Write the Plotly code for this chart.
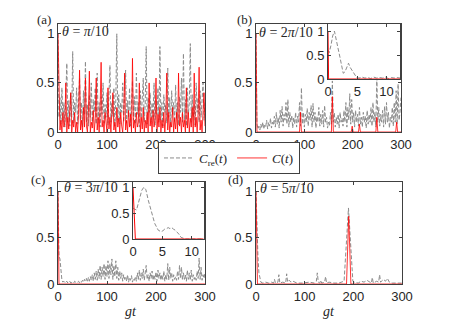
import plotly.graph_objects as go

# the page body adds an 8px margin, so the figure is drawn 8px in from the corner
OFF = 8
W, H = 449 - OFF, 323 - OFF

# time grid shared by the dense main-panel traces (step 2 in gt)
t_main = list(range(0, 301, 2))

# (a) theta = pi/10
cre_a = [1.0, 0.15, 0.35, 0.08, 0.45, 0.12, 0.3, 0.05, 0.38, 0.7,
         0.1, 0.32, 0.06, 0.4, 0.15, 0.82, 0.09, 0.3, 0.2, 0.45,
         0.08, 0.35, 0.55, 0.12, 0.3, 0.05, 0.42, 0.18, 0.72, 0.1,
         0.28, 0.06, 0.38, 0.15, 0.5, 0.1, 0.33, 0.2, 0.45, 0.08,
         0.6, 0.12, 0.3, 0.05, 0.36, 0.18, 0.5, 0.09, 0.28, 0.15,
         0.4, 0.07, 0.35, 0.68, 0.1, 0.3, 0.16, 0.45, 0.06, 0.33,
         1.0, 0.12, 0.38, 0.08, 0.3, 0.2, 0.5, 0.1, 0.35, 0.63,
         0.09, 0.32, 0.15, 0.45, 0.06, 0.3, 0.52, 0.12, 0.36, 0.08,
         0.6, 0.18, 0.3, 0.05, 0.42, 0.14, 0.33, 0.55, 0.1, 0.28,
         0.87, 0.08, 0.35, 0.2, 0.4, 0.1, 0.3, 0.15, 0.5, 0.07,
         0.32, 0.18, 0.45, 0.1, 0.87, 0.12, 0.3, 0.06, 0.38, 0.2,
         0.28, 0.09, 0.65, 0.15, 0.35, 0.05, 0.42, 0.18, 0.3, 0.1,
         0.48, 0.14, 0.3, 0.07, 0.36, 0.2, 0.55, 0.1, 0.8, 0.12,
         0.33, 0.06, 0.45, 0.18, 0.3, 0.9, 0.1, 0.38, 0.15, 0.28,
         0.07, 0.5, 0.2, 0.35, 0.1, 0.42, 0.15, 0.3, 0.5, 0.12,
         0.3]
c_a = [1.0, 0.5, 0.02, 0.12, 0.0, 0.2, 0.05, 0.1, 0.5, 0.0,
       0.15, 0.03, 0.22, 0.4, 0.0, 0.12, 0.05, 0.2, 0.0, 0.1,
       0.0, 0.18, 0.63, 0.02, 0.12, 0.0, 0.25, 0.05, 0.55, 0.06,
       0.0, 0.2, 0.62, 0.0, 0.1, 0.04, 0.22, 0.0, 0.14, 0.55,
       0.02, 0.15, 0.0, 0.25, 0.71, 0.05, 0.12, 0.0, 0.2, 0.06,
       0.0, 0.45, 0.03, 0.15, 0.0, 0.2, 0.4, 0.02, 0.1, 0.0,
       0.25, 0.05, 0.14, 0.0, 0.2, 0.06, 0.0, 0.15, 0.6, 0.02,
       0.12, 0.0, 0.22, 0.05, 0.18, 0.0, 0.75, 0.04, 0.12, 0.0,
       0.2, 0.05, 0.1, 0.5, 0.0, 0.15, 0.03, 0.25, 0.0, 0.12,
       0.04, 0.2, 0.0, 0.5, 0.06, 0.15, 0.0, 0.22, 0.05, 0.12,
       0.55, 0.0, 0.18, 0.05, 0.25, 0.0, 0.12, 0.04, 0.2, 0.0,
       0.15, 0.6, 0.02, 0.2, 0.0, 0.1, 0.05, 0.25, 0.0, 0.14,
       0.03, 0.2, 0.0, 0.6, 0.06, 0.15, 0.0, 0.2, 0.05, 0.12,
       0.0, 0.45, 0.04, 0.2, 0.0, 0.14, 0.05, 0.25, 0.0, 0.6,
       0.05, 0.15, 0.0, 0.2, 0.66, 0.02, 0.12, 0.0, 0.2, 0.4,
       0.06]

# (b) theta = 2pi/10
cre_b = [1.0, 0.08, 0.03, 0.06, 0.02, 0.08, 0.04, 0.1, 0.03, 0.07,
         0.05, 0.12, 0.03, 0.1, 0.06, 0.14, 0.04, 0.1, 0.07, 0.16,
         0.05, 0.2, 0.08, 0.15, 0.04, 0.22, 0.1, 0.26, 0.06, 0.18,
         0.12, 0.3, 0.08, 0.33, 0.05, 0.2, 0.1, 0.17, 0.04, 0.15,
         0.08, 0.2, 0.05, 0.16, 0.1, 0.3, 0.06, 0.45, 0.08, 0.2,
         0.05, 0.18, 0.1, 0.24, 0.06, 0.2, 0.12, 0.27, 0.05, 0.29,
         0.1, 0.2, 0.04, 0.16, 0.1, 0.25, 0.06, 0.18, 0.08, 0.22,
         0.05, 0.27, 0.1, 0.15, 0.04, 0.1, 0.06, 0.2, 0.08, 0.52,
         0.1, 0.2, 0.05, 0.15, 0.08, 0.18, 0.04, 0.2, 0.1, 0.14,
         0.06, 0.22, 0.1, 0.3, 0.05, 0.25, 0.12, 0.39, 0.08, 0.33,
         0.1, 0.2, 0.05, 0.22, 0.1, 0.18, 0.06, 0.25, 0.08, 0.15,
         0.05, 0.2, 0.1, 0.16, 0.04, 0.22, 0.08, 0.18, 0.1, 0.25,
         0.06, 0.3, 0.1, 0.2, 0.05, 0.58, 0.1, 0.25, 0.06, 0.18,
         0.1, 0.22, 0.05, 0.26, 0.08, 0.3, 0.1, 0.2, 0.04, 0.15,
         0.1, 0.25, 0.06, 0.3, 0.1, 0.42, 0.08, 0.49, 0.12, 0.2,
         0.35]
c_b_t = [0, 2, 4, 90, 92, 94, 156, 158, 160, 197, 199, 201, 212, 214, 216,
         248, 250, 252, 289, 291, 293, 300]
c_b = [1.0, 0, 0, 0, 0.2, 0, 0, 0.36, 0, 0, 0.06, 0, 0, 0.08, 0,
       0, 0.15, 0, 0, 0.1, 0, 0]

# inset of (b): short times
ins_b_t = [0, 0.2, 0.5, 0.8, 1.1, 1.4, 1.7, 2.0, 2.3, 2.6, 2.9, 3.2, 3.5, 3.8,
           4.1, 4.5, 4.9, 5.3, 5.8, 6.3, 6.8, 7.3, 7.8, 8.3, 8.8, 9.3, 9.8,
           10.3, 10.8, 11.3, 11.8, 12.3]
ins_b_cre = [0.6, 0.55, 0.7, 0.9, 1.0, 0.85, 0.65, 0.48, 0.28, 0.12, 0.15, 0.25,
             0.33, 0.24, 0.18, 0.08, 0.03, 0.02, 0.04, 0.02, 0.03, 0.01, 0.04,
             0.02, 0.03, 0.02, 0.04, 0.01, 0.03, 0.02, 0.03, 0.02]
ins_b_c_t = [0, 0.1, 12.3]
ins_b_c = [1.0, 0, 0]

# (c) theta = 3pi/10
cre_c = [1.0, 0.3, 0.27, 0.1, 0.04, 0.02, 0.03, 0.01, 0.02, 0.03,
         0.01, 0.02, 0.03, 0.01, 0.02, 0.02, 0.01, 0.03, 0.02, 0.01,
         0.02, 0.03, 0.01, 0.03, 0.02, 0.04, 0.02, 0.05, 0.03, 0.06,
         0.02, 0.07, 0.03, 0.08, 0.04, 0.1, 0.03, 0.12, 0.05, 0.14,
         0.04, 0.16, 0.06, 0.2, 0.05, 0.18, 0.08, 0.22, 0.05, 0.2,
         0.08, 0.25, 0.06, 0.22, 0.1, 0.27, 0.05, 0.2, 0.08, 0.25,
         0.06, 0.18, 0.04, 0.14, 0.06, 0.12, 0.03, 0.1, 0.05, 0.08,
         0.03, 0.1, 0.02, 0.07, 0.04, 0.09, 0.02, 0.06, 0.04, 0.08,
         0.03, 0.12, 0.05, 0.15, 0.04, 0.12, 0.06, 0.16, 0.04, 0.13,
         0.2, 0.05, 0.1, 0.03, 0.12, 0.06, 0.14, 0.04, 0.1, 0.05,
         0.13, 0.03, 0.15, 0.06, 0.12, 0.04, 0.1, 0.05, 0.14, 0.03,
         0.1, 0.05, 0.22, 0.04, 0.18, 0.06, 0.12, 0.03, 0.1, 0.05,
         0.08, 0.04, 0.14, 0.05, 0.2, 0.06, 0.18, 0.04, 0.12, 0.05,
         0.1, 0.03, 0.15, 0.05, 0.12, 0.04, 0.15, 0.03, 0.1, 0.05,
         0.08, 0.04, 0.14, 0.06, 0.28, 0.05, 0.18, 0.04, 0.1, 0.06,
         0.12]
c_c_t = [0, 2, 300]
c_c = [1.0, 0, 0]

# inset of (c)
ins_c_t = [0, 0.2, 0.6, 0.9, 1.2, 1.5, 1.85, 2.2, 2.6, 3.15, 3.7, 4.3, 4.8, 5.1,
           5.4, 5.7, 6.0, 6.3, 6.6, 6.9, 7.2, 7.5, 7.8, 8.2, 8.6, 9.0, 10, 11, 12]
ins_c_cre = [0.6, 0.58, 0.56, 0.68, 0.82, 0.94, 1.0, 0.95, 0.75, 0.5, 0.3, 0.17,
             0.14, 0.16, 0.19, 0.2, 0.22, 0.2, 0.22, 0.19, 0.17, 0.13, 0.1, 0.03,
             0.01, 0, 0, 0, 0]
ins_c_c_t = [0, 0.4, 12]
ins_c_c = [1.0, 0, 0]

# (d) theta = 5pi/10
cre_d_t = [0, 2, 4, 6, 8, 10, 14, 20, 26, 32, 36, 38, 40, 45, 47, 49, 55, 61, 63,
           65, 68, 72, 76, 80, 84, 95, 110, 120, 124, 126, 128, 131, 133, 135,
           141, 143, 145, 150, 160, 170, 178, 181, 190, 199, 202, 210, 216, 222,
           228, 234, 237, 239, 241, 248, 252, 254, 256, 262, 266, 270, 274, 280,
           290, 300]
cre_d = [1.0, 0.6, 0.3, 0.12, 0.05, 0.02, 0.01, 0.02, 0.01, 0.02, 0.01, 0.05,
         0.01, 0.02, 0.1, 0.01, 0.02, 0.01, 0.11, 0.02, 0.04, 0.02, 0.03, 0.02,
         0.01, 0.01, 0.02, 0.01, 0.03, 0.12, 0.02, 0.01, 0.04, 0.01, 0.02, 0.08,
         0.01, 0.02, 0.01, 0.01, 0.02, 0.03, 0.82, 0.03, 0.02, 0.01, 0.03, 0.02,
         0.04, 0.02, 0.01, 0.07, 0.01, 0.03, 0.02, 0.1, 0.02, 0.05, 0.03, 0.06,
         0.02, 0.01, 0.01, 0.01]
c_d_t = [0, 3, 186, 190.5, 195, 300]
c_d = [1.0, 0, 0, 0.73, 0, 0]

thetas = ["<i>θ</i> = <i>π</i>/10", "<i>θ</i> = 2<i>π</i>/10",
          "<i>θ</i> = 3<i>π</i>/10", "<i>θ</i> = 5<i>π</i>/10"]
panel_tags = ["(a)", "(b)", "(c)", "(d)"]

GRAY = "#8c8c8c"
RED = "#ff0000"
AXC = "#404040"


def px_x(p):
    # page pixel -> paper fraction
    return (p - OFF) / W


def px_y(p):
    return 1 - (p - OFF) / H


fig = go.Figure()

# main panels: (axis suffix, gray times, gray values, red times, red values)
panels = [
    ("", t_main, cre_a, t_main, c_a),
    ("2", t_main, cre_b, c_b_t, c_b),
    ("3", t_main, cre_c, c_c_t, c_c),
    ("4", cre_d_t, cre_d, c_d_t, c_d),
]
for i, (s, tx, gy, rx, ry) in enumerate(panels):
    fig.add_trace(go.Scatter(x=tx, y=gy, mode="lines", xaxis="x" + s, yaxis="y" + s,
                             line=dict(color=GRAY, width=1, dash="4px,2px"),
                             name="<i>C</i><sub>re</sub>(<i>t</i>)",
                             showlegend=(i == 0)))
    fig.add_trace(go.Scatter(x=rx, y=ry, mode="lines", xaxis="x" + s, yaxis="y" + s,
                             line=dict(color=RED, width=0.8),
                             name="<i>C</i>(<i>t</i>)",
                             showlegend=(i == 0)))

# insets
for s, gt, gy, rt, ry in [("5", ins_b_t, ins_b_cre, ins_b_c_t, ins_b_c),
                          ("6", ins_c_t, ins_c_cre, ins_c_c_t, ins_c_c)]:
    fig.add_trace(go.Scatter(x=gt, y=gy, mode="lines", xaxis="x" + s, yaxis="y" + s,
                             line=dict(color=GRAY, width=1, dash="4px,2px"),
                             showlegend=False))
    fig.add_trace(go.Scatter(x=rt, y=ry, mode="lines", xaxis="x" + s, yaxis="y" + s,
                             line=dict(color=RED, width=1), showlegend=False))

tick_font = dict(family="Liberation Sans, Arial", size=13, color="#262626")


def axis(domain, rng, tickvals, anchor):
    return dict(domain=domain, range=rng, tickvals=tickvals, anchor=anchor,
                automargin=False, title=None,
                showline=True, linecolor=AXC, linewidth=1, mirror="allticks",
                ticks="inside", ticklen=3, tickcolor=AXC, tickwidth=1,
                showgrid=False, zeroline=False, tickfont=tick_font)


# pixel boxes on the page (left, right, top, bottom)
boxes = {
    "": (58, 205, 24, 132),
    "2": (256, 401, 24, 132),
    "3": (58, 205, 182, 284),
    "4": (256, 402, 182, 284),
    "5": (328, 400, 24, 79),
    "6": (133, 204, 182, 239),
}
layout_axes = {}
for s, (l, r, t, b) in boxes.items():
    xd = [px_x(l), px_x(r)]
    yd = [px_y(b), px_y(t)]
    if s in ("5", "6"):
        xr, xt = ([0, 12.3], [0, 5, 10]) if s == "5" else ([0, 12.1], [0, 5, 10])
        yr = [0, 1.15] if s == "5" else [0, 1.1]
    else:
        xr, xt, yr = [0, 300], [0, 100, 200, 300], [0, 1.1]
    layout_axes["xaxis" + s] = axis(xd, xr, xt, "y" + s)
    layout_axes["yaxis" + s] = axis(yd, yr, [0, 0.5, 1], "x" + s)

text_font = dict(family="Liberation Serif", size=14, color="#262626")
annotations = []
tag_pos = [(44, 20), (244, 20), (38, 179), (235, 179)]
theta_pos = [(60, 32), (257, 33), (62, 187), (258, 188)]
for k in range(4):
    annotations.append(dict(text=panel_tags[k], x=px_x(tag_pos[k][0]), y=px_y(tag_pos[k][1]),
                            xref="paper", yref="paper", showarrow=False,
                            xanchor="center", yanchor="middle",
                            font=dict(family="Liberation Serif", size=13, color="#262626")))
    annotations.append(dict(text=thetas[k], x=px_x(theta_pos[k][0]), y=px_y(theta_pos[k][1]),
                            xref="paper", yref="paper", showarrow=False,
                            xanchor="left", yanchor="middle", font=text_font))
for cx in (131, 329):
    annotations.append(dict(text="<i>gt</i>", x=px_x(cx), y=px_y(311), xref="paper", yref="paper",
                            showarrow=False, xanchor="center", yanchor="middle", font=text_font))

fig.update_layout(
    width=W, height=H, autosize=False,
    margin=dict(l=0, r=0, t=0, b=0, autoexpand=False),
    template="simple_white",
    paper_bgcolor="white", plot_bgcolor="white",
    annotations=annotations,
    legend=dict(orientation="h", x=px_x(229), y=px_y(158), xanchor="center", yanchor="middle",
                bordercolor=AXC, borderwidth=1, bgcolor="white",
                font=dict(family="Liberation Serif", size=13, color="#262626"),
                itemwidth=30, tracegroupgap=0),
    **layout_axes,
)

fig.write_html("out.html")
